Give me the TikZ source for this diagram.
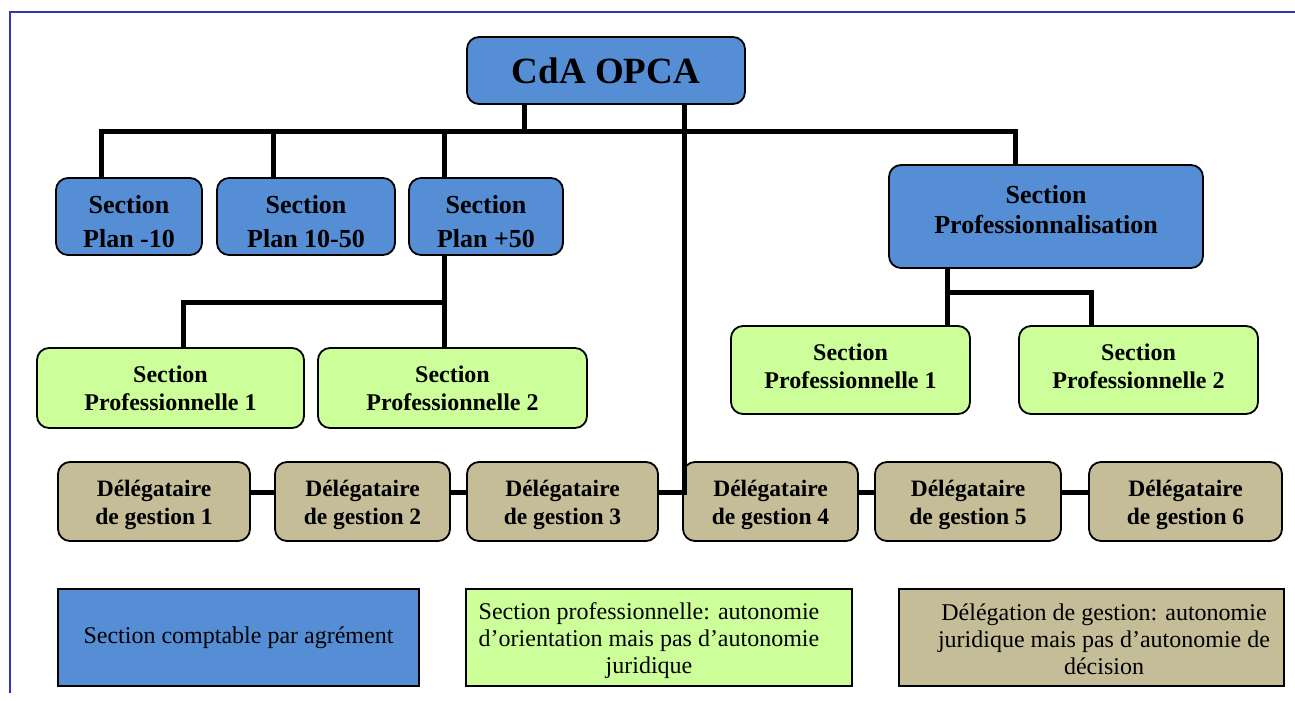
\documentclass[tikz,border=0pt]{standalone}
\usepackage{fontspec}
\setmainfont{Liberation Serif}
\definecolor{myblue}{RGB}{85,142,213}
\definecolor{mygreen}{RGB}{204,255,153}
\definecolor{mytan}{RGB}{196,189,151}
\definecolor{myframe}{RGB}{51,51,187}
\begin{document}
\begin{tikzpicture}[x=1pt,y=-1pt,
  box/.style={draw=black,line width=1.8pt,rounded corners=12pt,inner sep=0pt,align=center},
  bluebox/.style={box,fill=myblue},
  greenbox/.style={box,fill=mygreen,font=\bfseries\fontsize{24}{28}\selectfont},
  tanbox/.style={box,fill=mytan},
  bluetext/.style={inner sep=0pt,align=center,font=\bfseries\fontsize{26}{34}\selectfont},
  greentext/.style={inner sep=0pt,align=center,font=\bfseries\fontsize{24}{28}\selectfont},
  tantext/.style={inner sep=0pt,align=center,font=\bfseries\fontsize{23.5}{28}\selectfont},
  legbox/.style={draw=black,line width=1.8pt,inner sep=0pt,align=center},
  legtext/.style={inner sep=0pt,align=center,font=\fontsize{24}{27}\selectfont},
  conn/.style={line width=5pt,line join=miter,line cap=butt},
  frame/.style={draw=myframe,line width=2pt}]
\useasboundingbox (0,0) rectangle (1295,701);
% frame
\draw[frame] (9.5,693) -- (9.5,12.5) -- (1295,12.5);

% top node
\node[box,fill=myblue,minimum width=278pt,minimum height=67pt,font=\bfseries\fontsize{37}{40}\selectfont] (cda) at (606,70.5) {CdA OPCA};

% sections
\node[bluebox,minimum width=146pt,minimum height=77pt] (p10) at (129,216.5) {};
\node[bluetext] (p10t) at (129,222) {Section\\Plan -10};
\node[bluebox,minimum width=178pt,minimum height=77pt] (p1050) at (306,216.5) {};
\node[bluetext] (p1050t) at (306,222) {Section\\Plan 10-50};
\node[bluebox,minimum width=154pt,minimum height=77pt] (p50) at (486,216.5) {};
\node[bluetext] (p50t) at (486,222) {Section\\Plan +50};
\node[bluebox,minimum width=314pt,minimum height=103pt] (prof) at (1046,216.5) {};
\node[inner sep=0pt,align=center,font=\bfseries\fontsize{26}{30}\selectfont] (proftxt) at (1046,210) {Section\\Professionnalisation};

% sections professionnelles
\node[greenbox,minimum width=267pt,minimum height=80pt] (spa1) at (170.5,388) {Section\\Professionnelle 1};
\node[greenbox,minimum width=269pt,minimum height=80pt] (spa2) at (452.5,388) {Section\\Professionnelle 2};
\node[greenbox,minimum width=239pt,minimum height=88pt] (spb1) at (850.5,370) {};
\node[greentext] (spb1t) at (850.5,366) {Section\\Professionnelle 1};
\node[greenbox,minimum width=239pt,minimum height=88pt] (spb2) at (1138.5,370) {};
\node[greentext] (spb2t) at (1138.5,366) {Section\\Professionnelle 2};

% delegataires
\node[tanbox,minimum width=192pt,minimum height=79pt] (d1) at (154,501.5) {};
\node[tantext] (d1t) at (154,504.5) {Délégataire\\de gestion 1};
\node[tanbox,minimum width=175pt,minimum height=79pt] (d2) at (362.5,501.5) {};
\node[tantext] (d2t) at (362.5,504.5) {Délégataire\\de gestion 2};
\node[tanbox,minimum width=191pt,minimum height=79pt] (d3) at (562.5,501.5) {};
\node[tantext] (d3t) at (562.5,504.5) {Délégataire\\de gestion 3};
\node[tanbox,minimum width=175pt,minimum height=79pt] (d4) at (770.5,501.5) {};
\node[tantext] (d4t) at (770.5,504.5) {Délégataire\\de gestion 4};
\node[tanbox,minimum width=186pt,minimum height=79pt] (d5) at (968,501.5) {};
\node[tantext] (d5t) at (968,504.5) {Délégataire\\de gestion 5};
\node[tanbox,minimum width=193pt,minimum height=79pt] (d6) at (1185.5,501.5) {};
\node[tantext] (d6t) at (1185.5,504.5) {Délégataire\\de gestion 6};

% legend
\node[legbox,fill=myblue,minimum width=361pt,minimum height=97pt,font=\fontsize{24}{27}\selectfont] (l1) at (238.5,637.5) {Section comptable par agrément};
\node[legbox,fill=mygreen,minimum width=386pt,minimum height=97pt] (l2) at (659,637.5) {};
\node[legtext] (l2t) at (649,641) {Section professionnelle: autonomie\\d’orientation mais pas d’autonomie\\juridique};
\node[legbox,fill=mytan,minimum width=385pt,minimum height=97pt] (l3) at (1091.5,637.5) {};
\node[legtext] (l3t) at (1104,639) {Délégation de gestion: autonomie\\juridique mais pas d’autonomie de\\décision};

% connectors
\coordinate (busL) at (101,131);
\coordinate (busR) at (1015,131);
\coordinate (c1) at (524,131);
\coordinate (c2) at (273,131);
\coordinate (c3) at (444,131);
\coordinate (c4) at (444,302);
\coordinate (c5) at (183,302);
\coordinate (c6) at (947,292);
\coordinate (c7) at (1091,292);
\coordinate (c8) at (684,492);

\draw[conn] (busL |- p10.north) -- (busL) -- (busR) -- (busR |- prof.north);
\draw[conn] (cda.south -| c1) -- (c1);
\draw[conn] (c2) -- (c2 |- p1050.north);
\draw[conn] (c3) -- (c3 |- p50.north);
\draw[conn] (p50.south -| c4) -- (c4 |- spa2.north);
\draw[conn] (c4) -- (c5) -- (c5 |- spa1.north);
\draw[conn] (prof.south -| c6) -- (c6 |- spb1.north);
\draw[conn] (c6) -- (c7) -- (c7 |- spb2.north);
\draw[conn] (cda.south -| c8) -- (c8) -- (c8 -| d3.east);
\draw[conn] (d1.east |- c8) -- (d2.west |- c8);
\draw[conn] (d2.east |- c8) -- (d3.west |- c8);
\draw[conn] (d4.east |- c8) -- (d5.west |- c8);
\draw[conn] (d5.east |- c8) -- (d6.west |- c8);
\end{tikzpicture}
\end{document}
